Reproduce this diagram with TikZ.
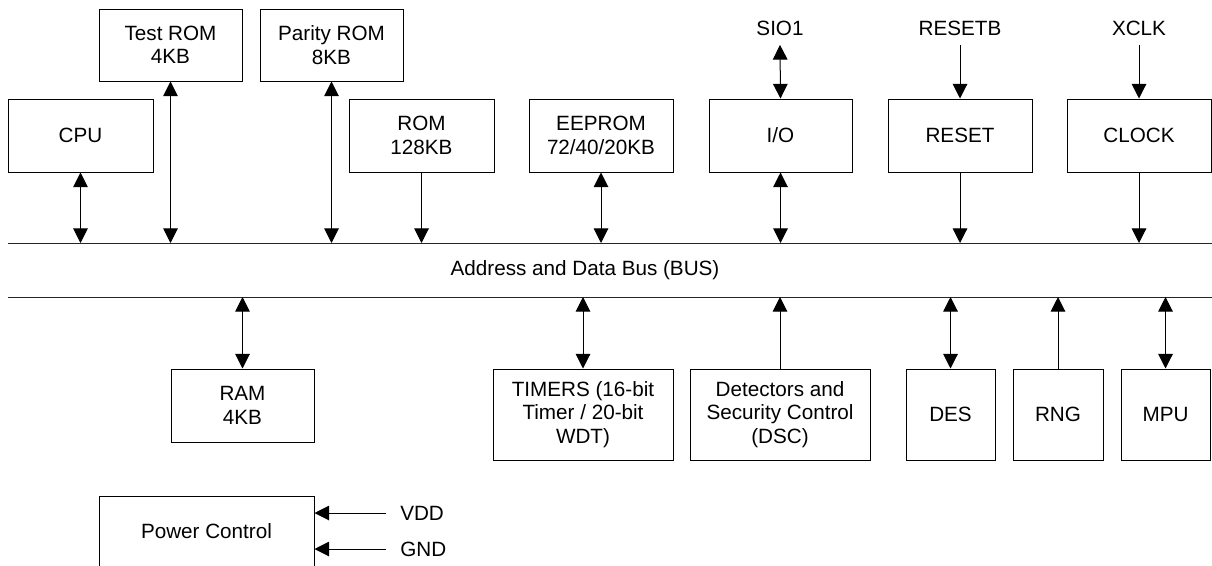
\documentclass[tikz,border=0pt]{standalone}
\usepackage{fontspec}
\setmainfont{Liberation Sans}
\usetikzlibrary{arrows.meta}
\begin{document}
\begin{tikzpicture}[x=0.75pt,y=-0.75pt,
  every node/.style={font=\fontsize{15.5}{17.5}\selectfont},
  box/.style 2 args={draw, line width=0.75pt, inner sep=0pt, align=center,
    minimum width={#1*0.75pt}, minimum height={#2*0.75pt}},
  lbl/.style={inner sep=0pt},
  conn/.style={line width=0.75pt},
  bi/.style={conn,{Triangle[width=11pt,length=11pt]}-{Triangle[width=11pt,length=11pt]}},
  uni/.style={conn,-{Triangle[width=11pt,length=11pt]}}]
\useasboundingbox (0,0) rectangle (1212,565);
\clip (0,0) rectangle (1212,565);
% top boxes
\node[box={145}{73}] (cpu) at (80.5,135.5) {CPU};
\node[box={143}{72}] (trom) at (170.5,45) {Test ROM\\4KB};
\node[box={143}{72}] (prom) at (331.5,45) {Parity ROM\\8KB};
\node[box={145}{73}] (rom) at (421.5,135.5) {ROM\\128KB};
\node[box={144}{73}] (eep) at (601,135.5) {EEPROM\\72/40/20KB};
\node[box={143}{73}] (io) at (780.5,135.5) {I/O};
\node[box={144}{73}] (rst) at (960,135.5) {RESET};
\node[box={144}{73}] (clk) at (1139,135.5) {CLOCK};
% top labels
\node[lbl] (sio) at (780,28) {SIO1};
\node[lbl] (rstb) at (960,28) {RESETB};
\node[lbl] (xclk) at (1139,28) {XCLK};
% bus
\coordinate (busTL) at (8,243);
\coordinate (busTR) at (1212,243);
\coordinate (busBL) at (8,297);
\coordinate (busBR) at (1212,297);
\draw[conn, black!85] (busTL) -- (busTR);
\draw[conn, black!85] (busBL) -- (busBR);
\node[lbl] (bus) at (585,270) {Address and Data Bus (BUS)};
% bottom boxes
\node[box={143}{73}] (ram) at (242.5,405.5) {RAM\\4KB};
\node[box={180}{91}] (tim) at (583,414.5) {TIMERS (16-bit\\Timer / 20-bit\\WDT)};
\node[box={180}{91}] (dsc) at (780,414.5) {Detectors and\\Security Control\\(DSC)};
\node[box={89}{91}] (des) at (950.5,414.5) {DES};
\node[box={90}{91}] (rng) at (1058,414.5) {RNG};
\node[box={89}{91}] (mpu) at (1165.5,414.5) {MPU};
\node[box={215}{71}] (pwr) at (206.5,531.5) {Power Control};
\node[lbl, anchor=west] (vdd) at (400,513) {VDD};
\node[lbl, anchor=west] (gnd) at (400,549) {GND};
% top connectors
\draw[bi] (cpu.south) -- (cpu.south |- busTL);
\draw[bi] (trom.south) -- (trom.south |- busTL);
\draw[bi] (prom.south) -- (prom.south |- busTL);
\draw[uni] (rom.south) -- (rom.south |- busTL);
\draw[bi] (eep.south) -- (eep.south |- busTL);
\draw[bi] (io.south) -- (io.south |- busTL);
\draw[uni] (rst.south) -- (rst.south |- busTL);
\draw[uni] (clk.south) -- (clk.south |- busTL);
\draw[bi] ([yshift=-7pt]sio.south) -- (io.north);
\draw[uni] ([yshift=-7pt]rstb.south) -- (rst.north);
\draw[uni] ([yshift=-7pt]xclk.south) -- (clk.north);
% bottom connectors
\draw[bi] (ram.north) -- (ram.north |- busBL);
\draw[bi] (tim.north) -- (tim.north |- busBL);
\draw[uni] (dsc.north) -- (dsc.north |- busBL);
\draw[bi] (des.north) -- (des.north |- busBL);
\draw[uni] (rng.north) -- (rng.north |- busBL);
\draw[bi] (mpu.north) -- (mpu.north |- busBL);
\draw[uni] ([xshift=-10.5pt]vdd.west) -- (pwr.east |- vdd.west);
\draw[uni] ([xshift=-10.5pt]gnd.west) -- (pwr.east |- gnd.west);
\end{tikzpicture}
\end{document}
